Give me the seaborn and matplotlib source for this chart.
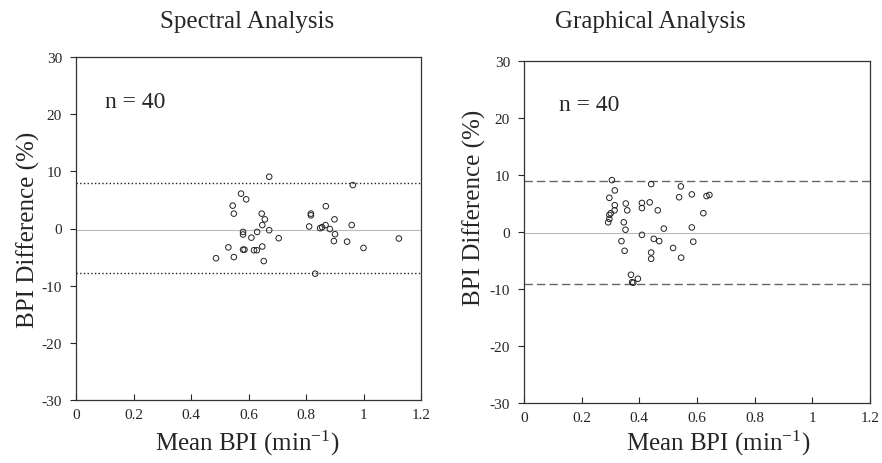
import numpy as np
import pandas as pd
import matplotlib
matplotlib.use("Agg")
import matplotlib.pyplot as plt
import seaborn as sns

# Spectral analysis: mean BPI vs BPI difference (%)
spec_mean = [0.672, 0.963, 0.574, 0.592, 0.545, 0.549, 0.646, 0.657, 0.648, 0.672,
             0.581, 0.581, 0.630, 0.610, 0.705, 0.530, 0.581, 0.586, 0.619, 0.629,
             0.648, 0.487, 0.549, 0.653, 0.832, 0.817, 0.817, 0.869, 0.899, 0.811,
             0.849, 0.856, 0.868, 0.883, 0.901, 0.897, 0.943, 0.959, 1.000, 1.123]
spec_diff = [9.05, 7.6, 6.1, 5.1, 4.0, 2.6, 2.6, 1.6, 0.6, -0.3,
             -0.6, -1.05, -0.6, -1.6, -1.7, -3.3, -3.7, -3.7, -3.8, -3.8,
             -3.15, -5.2, -5.0, -5.7, -7.9, 2.6, 2.3, 3.9, 1.6, 0.35,
             0.06, 0.23, 0.6, -0.1, -1.0, -2.2, -2.3, 0.6, -3.4, -1.75]
spec_lines = [7.9, -0.2, -7.7]   # upper limit, mean, lower limit

# Graphical analysis
graph_mean = [0.305, 0.315, 0.296, 0.315, 0.314, 0.301, 0.296, 0.296, 0.292, 0.353,
              0.358, 0.346, 0.352, 0.338, 0.349, 0.409, 0.409, 0.436, 0.441, 0.464,
              0.409, 0.450, 0.469, 0.441, 0.441, 0.485, 0.517, 0.538, 0.544, 0.582,
              0.582, 0.587, 0.545, 0.622, 0.633, 0.643, 0.371, 0.379, 0.395, 0.375]
graph_diff = [9.1, 7.3, 6.0, 4.7, 3.8, 3.3, 3.0, 2.3, 1.7, 5.0,
              3.8, 1.7, 0.4, -1.6, -3.3, 5.1, 4.2, 5.2, 8.4, 3.8,
              -0.5, -1.2, -1.6, -3.6, -4.7, 0.6, -2.8, 6.1, 8.0, 6.6,
              0.8, -1.7, -4.5, 3.3, 6.3, 6.5, -7.5, -8.9, -8.2, -8.8]
graph_lines = [8.9, -0.25, -9.15]

xticks = [0, 0.2, 0.4, 0.6, 0.8, 1, 1.2]
xticklabels = ["0", "0.2", "0.4", "0.6", "0.8", "1", "1.2"]
yticks = [-30, -20, -10, 0, 10, 20, 30]

sns.set_style("ticks")
plt.rcParams['font.family'] = ['Liberation Serif', 'DejaVu Serif']
plt.rcParams['mathtext.fontset'] = 'stix'
plt.rcParams['axes.unicode_minus'] = False

fig = plt.figure(figsize=(8.82, 4.64), dpi=100)
W, H = 882, 464
BIG = 18

def make_ax(l, r, t, b):
    return fig.add_axes([l / W, 1 - b / H, (r - l) / W, (b - t) / H])

panels = [
    (make_ax(76, 421, 58, 401), spec_mean, spec_diff, spec_lines, ":", "#222222", 0.10),
    (make_ax(524, 870, 62, 404), graph_mean, graph_diff, graph_lines, (0, (6, 3)), "#666666", 0.12),
]

for ax, xm, yd, lines, ls, lc, nx in panels:
    df = pd.DataFrame({"mean": xm, "diff": yd})
    ax.axhline(lines[0], color=lc, ls=ls, lw=1.0, zorder=1)
    ax.axhline(lines[1], color="#bbbbbb", ls="-", lw=0.8, zorder=1)
    ax.axhline(lines[2], color=lc, ls=ls, lw=1.0, zorder=1)
    sns.scatterplot(data=df, x="mean", y="diff", ax=ax, marker="o", s=16,
                    facecolors="none", edgecolors="#222222", linewidth=0.7, zorder=3)
    ax.set_xlim(0, 1.2)
    ax.set_ylim(-30, 30)
    ax.set_xticks(xticks)
    ax.set_xticklabels(xticklabels)
    ax.set_yticks(yticks)
    ax.tick_params(axis="x", direction="in", length=4, width=0.8, labelsize=11, pad=6)
    ax.tick_params(axis="y", direction="out", length=4, width=0.8, labelsize=11, pad=6)
    for sp in ax.spines.values():
        sp.set_linewidth(0.9)
        sp.set_color("#333333")
    ax.set_xlabel("")
    ax.set_ylabel("")
    ax.text(nx, 22.3, "n = 40", fontsize=17, va="center")

# titles, axis labels
fig.text(247 / W, 1 - 22 / H, "Spectral Analysis", ha="center", va="center", fontsize=BIG)
fig.text(650 / W, 1 - 22 / H, "Graphical Analysis", ha="center", va="center", fontsize=BIG)
fig.text(247 / W, 1 - 443 / H, r"Mean BPI (min$^{\mathregular{-1}}$)", ha="center", va="center", fontsize=BIG)
fig.text(718 / W, 1 - 443 / H, r"Mean BPI (min$^{\mathregular{-1}}$)", ha="center", va="center", fontsize=BIG)
fig.text(28 / W, 1 - 230 / H, "BPI Difference (%)", rotation=90, ha="center", va="center", fontsize=BIG)
fig.text(474 / W, 1 - 208 / H, "BPI Difference (%)", rotation=90, ha="center", va="center", fontsize=BIG)

fig.savefig("out.png", dpi=100)
